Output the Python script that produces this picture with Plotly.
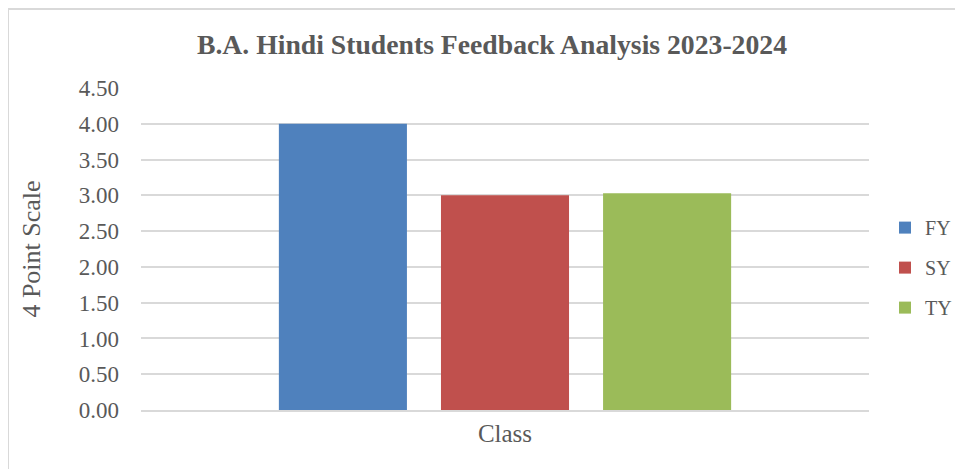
import plotly.graph_objects as go

# data
category = ["Class"]
series_names = ["FY", "SY", "TY"]
series_values = [4.00, 3.00, 3.03]
series_colors = ["#4F81BD", "#C0504D", "#9BBB59"]
y_ticks = [0, 0.5, 1, 1.5, 2, 2.5, 3, 3.5, 4, 4.5]

TEXT = "#595959"
GRID = "#D9D9D9"
FONT = "Liberation Serif"

# page body has an 8px margin, so the figure is sized to fit inside the window
W, H = 955, 461

fig = go.Figure()
for name, val, col in zip(series_names, series_values, series_colors):
    fig.add_trace(go.Bar(
        x=category, y=[val], name=name, marker_color=col,
        marker_line_width=0, legendgroup=name,
    ))

fig.update_layout(
    width=W, height=H,
    margin=dict(l=133, r=94, t=80, b=59, autoexpand=False),
    paper_bgcolor="white", plot_bgcolor="white",
    font=dict(family=FONT, color=TEXT, size=23),
    title=dict(
        text="<b>B.A. Hindi Students Feedback Analysis 2023-2024</b>",
        x=484 / W, xanchor="center", y=1 - 36 / H, yanchor="middle",
        font=dict(family=FONT, size=27.7, color=TEXT),
    ),
    barmode="group", bargap=0.332, bargroupgap=0.21,
    legend=dict(
        x=1.022, xanchor="left", y=0.627, yanchor="top",
        font=dict(size=20, color=TEXT), tracegroupgap=11,
        bgcolor="rgba(0,0,0,0)",
    ),
    showlegend=True,
    shapes=[dict(
        type="rect", xref="paper", yref="paper",
        x0=-0.1827, x1=1.3, y0=-0.3, y1=1.245,
        line=dict(color=GRID, width=2), layer="below",
    )],
)

fig.update_yaxes(
    range=[0, 4.5], tickvals=y_ticks, tickformat=".2f",
    showgrid=True, gridcolor=GRID, gridwidth=1.5,
    zeroline=False, showline=False, ticks="", ticklabelstandoff=21,
    title=dict(text="4 Point Scale", font=dict(size=26), standoff=30),
)
fig.update_xaxes(
    showline=True, linecolor=GRID, linewidth=1.5,
    ticks="", tickfont=dict(size=25),
    showgrid=False,
)

fig.write_html("out.html")
